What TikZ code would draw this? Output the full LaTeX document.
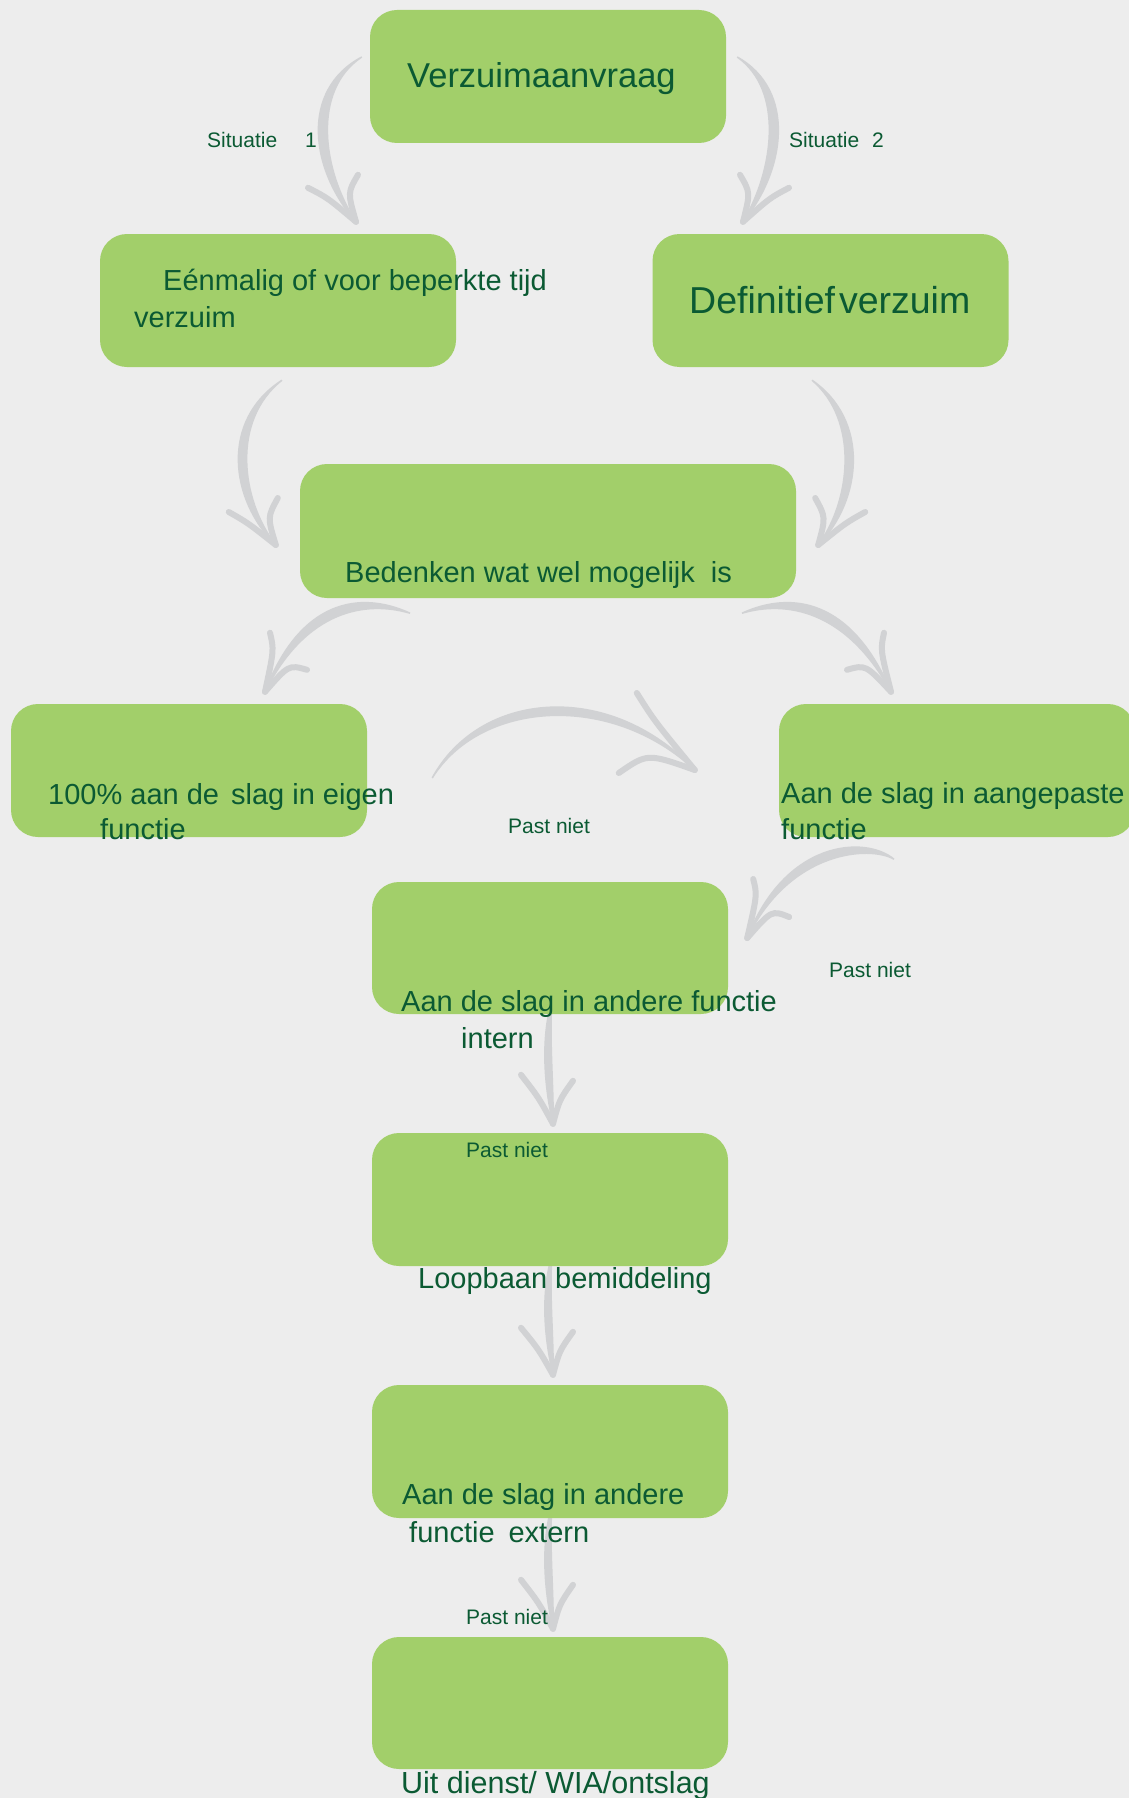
\documentclass[tikz,border=0pt]{standalone}
\usepackage{fontspec}
\setmainfont{Liberation Sans}
\usetikzlibrary{calc}
\definecolor{bggray}{HTML}{EDEDED}
\definecolor{boxgreen}{HTML}{A2CF6A}
\definecolor{txtgreen}{HTML}{0B5A33}
\definecolor{arrgray}{HTML}{D1D2D4}
\pgfdeclarelayer{back}
\pgfdeclarelayer{arrows}
\pgfsetlayers{back,arrows,main}
% #1 start, #2 tip, #3 c1 offset from start, #4 c2 offset from tip,
% #5 inner-curve shift, #6 #7 barb ends (offsets from tip)
\newcommand\swoosh[7]{%
  \coordinate (swA) at ($(#1)+(#3)$);
  \coordinate (swB) at ($(#2)+(#4)$);
  \coordinate (swE) at ($(#2)+(#6)$);
  \coordinate (swF) at ($(#2)+(#7)$);
  \filldraw[shaft] (#1) .. controls (swA) and (swB) .. (#2)
    .. controls ($(swB)+(#5)$) and ($(swA)+(#5)$) .. (#1);
  \draw[barbline] (#2) .. controls ($($(#2)!0.5!(swE)$)!0.2!(swB)$) .. (swE);
  \draw[barbline] (#2) .. controls ($($(#2)!0.5!(swF)$)!0.2!(swB)$) .. (swF);
}
\begin{document}
\begin{tikzpicture}[x=1pt,y=-1pt,
  box/.style={rectangle, rounded corners=27pt, fill=boxgreen, minimum width=356pt, minimum height=133pt, inner sep=0pt},
  txt/.style={anchor=base west, inner sep=0pt, text=txtgreen, font=\fontsize{29}{35}\selectfont},
  lab/.style={anchor=base west, inner sep=0pt, text=txtgreen, font=\fontsize{21}{25}\selectfont},
  shaft/.style={fill=arrgray, draw=arrgray, line width=1.5pt, line join=round},
  barbline/.style={draw=arrgray, line width=6pt, line cap=round}]
\begin{pgfonlayer}{back}
\fill[bggray] (0,0) rectangle (1129,1798);
\end{pgfonlayer}
\useasboundingbox (0,0) rectangle (1129,1798);

% boxes
\node[box] (v) at (548,76.5) {};
\node[box] (e) at (278,300.5) {};
\node[box] (d) at (830.5,300.5) {};
\node[box, minimum width=496pt, minimum height=134pt] (b) at (548,531) {};
\node[box] (h) at (189,770.5) {};
\node[box] (a) at (957,770.5) {};
\node[box, minimum height=132pt] (i) at (550,948) {};
\node[box] (l) at (550,1199.5) {};
\node[box] (x) at (550,1451.5) {};
\node[box, minimum height=132pt] (u) at (550,1703) {};

% texts
\node[txt, font=\fontsize{34.5}{40}\selectfont] (tv) at (407,88) {Verzuimaanvraag};
\node[txt] (te1) at (163,290) {Eénmalig of voor beperkte tijd};
\node[txt] (te2) at (134,327) {verzuim};
\node[txt, font=\fontsize{37.5}{42}\selectfont] (td) at (689,313) {Definitief\hspace{4pt}verzuim};
\node[txt] (tb) at (345,582) {Bedenken wat wel mogelijk\hspace{16pt}is};
\node[txt] (th1) at (48,804) {100\% aan de\hspace{12pt}slag in eigen};
\node[txt] (th2) at (100,839) {functie};
\node[txt] (ta1) at (781,803) {Aan de slag in aangepaste};
\node[txt] (ta2) at (781,839) {functie};
\node[txt] (ti1) at (401,1011) {Aan de slag in andere functie};
\node[txt] (ti2) at (461,1048) {intern};
\node[txt] (tl) at (418,1288) {Loopbaan bemiddeling};
\node[txt] (tx1) at (402,1504) {Aan de slag in andere};
\node[txt] (tx2) at (409,1542) {functie\hspace{14pt}extern};
\node[txt, font=\fontsize{30.5}{36}\selectfont] (tu) at (401,1793) {Uit dienst/ WIA/ontslag};

% labels
\node[lab] (s1) at (207,148) {Situatie\hspace{28pt}1};
\node[lab] (s2) at (789,148) {Situatie\hspace{13pt}2};
\node[lab] (p1) at (508,833) {Past niet};
\node[lab] (p2) at (829,977) {Past niet};
\node[lab] (p3) at (466,1157) {Past niet};
\node[lab] (p4) at (466,1624) {Past niet};

% connectors
\begin{pgfonlayer}{arrows}
\coordinate (a1s) at ($(v.west)+(-8,-19.5)$);
\coordinate (a1t) at ($(e.north)+(78,-12)$);
\swoosh{a1s}{a1t}{-62,33}{-46,-52}{12,0}{-48,-34}{2,-47}
\coordinate (a2s) at ($(v.east)+(11,-19.5)$);
\coordinate (a2t) at ($(d.north)+(-87.5,-12)$);
\swoosh{a2s}{a2t}{59,33}{43,-52}{-12,0}{-3,-47}{46,-34}
\coordinate (a3s) at ($(e.south)+(4,13)$);
\coordinate (a3t) at ($(b.west)+(-24,14)$);
\swoosh{a3s}{a3t}{-62,40}{-46,-45}{11,0}{-47,-33}{2,-47}
\coordinate (a4s) at ($(d.south)+(-18.5,13)$);
\coordinate (a4t) at ($(b.east)+(22,14)$);
\swoosh{a4s}{a4t}{58,40}{44,-45}{-11,0}{-3,-47}{47,-33}
\coordinate (a5s) at ($(b.south)+(-138,15)$);
\coordinate (a5t) at ($(h.north)+(76,-12)$);
\swoosh{a5s}{a5t}{-50,-23}{35,-92}{6,10}{5,-59}{42,-22}
\coordinate (a6s) at ($(b.south)+(194,15)$);
\coordinate (a6t) at ($(a.north)+(-66,-12)$);
\swoosh{a6s}{a6t}{50,-23}{-39,-92}{-6,10}{-7,-59}{-44,-22}
\coordinate (a7s) at ($(h.east)+(65,7.5)$);
\coordinate (a7t) at ($(a.west)+(-84,-0.5)$);
\swoosh{a7s}{a7t}{48,-88}{-85,-90}{0,11}{-58,-77}{-76,3}
\coordinate (a8s) at ($(a.south)+(-63,22)$);
\coordinate (a8t) at ($(i.east)+(19,-10)$);
\swoosh{a8s}{a8t}{-29,-24}{38,-98}{5,10}{6,-59}{42,-21}
\coordinate (a9s) at ($(i.south)+(2,-14)$);
\coordinate (a9t) at ($(l.north)+(3,-9)$);
\swoosh{a9s}{a9t}{-12,40}{-8,-34}{9,0}{-32,-49}{20,-43}
\coordinate (a10s) at ($(l.south)+(2,-11)$);
\coordinate (a10t) at ($(x.north)+(3,-10)$);
\swoosh{a10s}{a10t}{-12,40}{-8,-34}{9,0}{-32,-47}{20,-43}
\coordinate (a11s) at ($(x.south)+(2,-13)$);
\coordinate (a11t) at ($(u.north)+(3,-8)$);
\swoosh{a11s}{a11t}{-12,40}{-8,-34}{9,0}{-32,-49}{20,-44}
\end{pgfonlayer}
\end{tikzpicture}
\end{document}
